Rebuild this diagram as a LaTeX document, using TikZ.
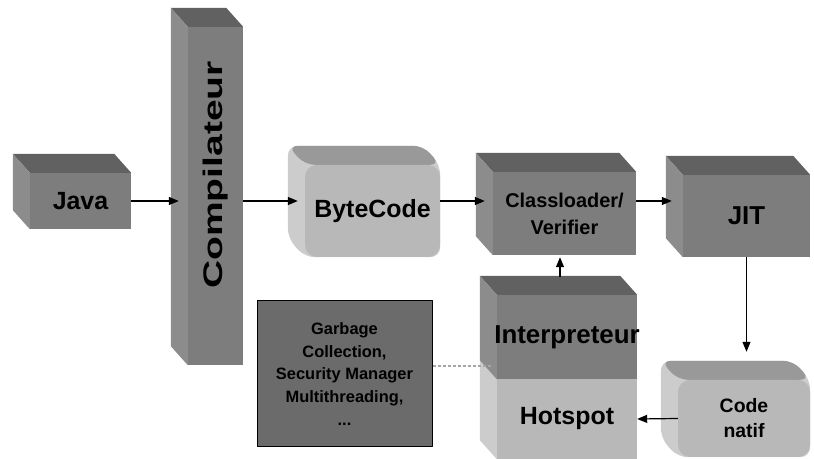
\documentclass[tikz,border=0pt]{standalone}
\usepackage{fontspec}
\setmainfont{Liberation Sans}
\usepackage{tikz}
\usetikzlibrary{arrows.meta}
\usetikzlibrary{backgrounds}

\definecolor{darkfront}{gray}{0.49}
\definecolor{darktop}{gray}{0.38}
\definecolor{darkside}{gray}{0.55}
\definecolor{lightfront}{gray}{0.72}
\definecolor{lighttop}{gray}{0.60}
\definecolor{lightside}{gray}{0.80}
\definecolor{gcfill}{gray}{0.42}

% top and left faces behind a front node
\newcommand\cubefaces[3]{%
  \fill[#2] (#1.north west) -- ([shift={(-17bp,19bp)}]#1.north west) -- ([shift={(-17bp,19bp)}]#1.north east) -- (#1.north east) -- cycle;
  \fill[#3] (#1.north west) -- ([shift={(-17bp,19bp)}]#1.north west) -- ([shift={(-17bp,19bp)}]#1.south west) -- (#1.south west) -- cycle;}
\newcommand\roundfaces[3]{%
  \fill[#3,rounded corners=10bp] ([shift={(-17bp,19bp)}]#1.north west) -- ([shift={(-17bp,19bp)}]#1.north east) -- (#1.north east) -- (#1.south east) -- (#1.south west) -- ([shift={(-17bp,19bp)}]#1.south west) -- cycle;
  \fill[#2,rounded corners=10bp] ([shift={(-17bp,19bp)}]#1.north west) -- ([shift={(-17bp,19bp)}]#1.north east) -- (#1.north east) -- (#1.north west) -- cycle;}
\newcommand\boxfont[2]{\bfseries\fontsize{#1}{#2}\selectfont}

\begin{document}
\begin{tikzpicture}[>={Triangle[length=10bp,width=8bp]},line join=bevel,
  darkbox/.style={fill=darkfront,inner sep=0pt,align=center},
  lightbox/.style={fill=lightfront,inner sep=0pt,align=center},
  roundbox/.style={lightbox,rounded corners=12bp},
  flow/.style={black,line width=1.2bp,->}]
%%
\useasboundingbox (0bp,0bp) rectangle (814bp,459bp);
\node (node_java) at (80.5bp,258bp) [darkbox,font=\boxfont{25}{30},minimum width=101bp,minimum height=56bp] {Java};
\node (node_comp) at (215.5bp,263bp) [darkbox,font=\boxfont{27}{30},minimum width=55bp,minimum height=338bp] {\rotatebox{90}{\hspace*{42bp}\scalebox{1.45}[1]{Compilateur}}};
\node (node_byte) at (372.5bp,248bp) [roundbox,font=\boxfont{25}{30},minimum width=135bp,minimum height=92bp] {ByteCode};
\node (node_class) at (564.5bp,245.5bp) [darkbox,font=\boxfont{20}{27},minimum width=143bp,minimum height=83bp] {Classloader/\\Verifier};
\node (node_jit) at (746.5bp,243bp) [darkbox,font=\boxfont{26}{30},minimum width=127bp,minimum height=82bp] {JIT};
\node (node_interp) at (567bp,122bp) [darkbox,font=\boxfont{26}{30},minimum width=140bp,minimum height=84bp] {\makebox[0pt]{Interpreteur}};
\node (node_hot) at (567bp,40bp) [lightbox,font=\boxfont{25}{30},minimum width=140bp,minimum height=80bp] {Hotspot};
\node (node_gc) at (344.5bp,85bp) [fill=gcfill,draw=black,line width=1bp,inner sep=0pt,align=center,font=\boxfont{16.5}{23},minimum width=175bp,minimum height=146bp] {Garbage\\Collection,\\Security Manager\\Multithreading,\\...};
\node (node_code) at (744bp,40.5bp) [roundbox,font=\boxfont{19.5}{25},minimum width=132bp,minimum height=77bp] {Code\\natif};
%
\begin{pgfonlayer}{background}
\cubefaces{node_java}{darktop}{darkside}
\cubefaces{node_comp}{darktop}{darkside}
\roundfaces{node_byte}{lighttop}{lightside}
\cubefaces{node_class}{darktop}{darkside}
\cubefaces{node_jit}{darktop}{darkside}
\cubefaces{node_hot}{lighttop}{lightside}
\cubefaces{node_interp}{darktop}{darkside}
\roundfaces{node_code}{lighttop}{lightside}
\end{pgfonlayer}
%
\draw [flow] (node_java.east) -- ([xshift=-9bp]node_comp.west |- node_java.east);
\draw [flow] (node_comp.east |- node_java.east) -- ([xshift=-7bp]node_byte.west |- node_java.east);
\draw [flow] (node_byte.east |- node_java.east) -- ([xshift=-8bp]node_class.west |- node_java.east);
\draw [flow] (node_class.east |- node_java.east) -- ([xshift=-11bp]node_jit.west |- node_java.east);
\draw [flow] (node_jit.south) -- ([yshift=28bp]node_jit.south |- node_code.north);
\draw [flow] (node_code.west) -- (node_hot.east);
\draw [flow] ([xshift=-7bp,yshift=18bp]node_interp.north) -- ([xshift=-7bp,yshift=-2bp]node_interp.north |- node_class.south);
\draw [gray!70,line width=1.5bp,dash pattern=on 3bp off 2bp] ([yshift=8bp]node_gc.east) -- ([xshift=-5bp,yshift=8bp]node_hot.west |- node_gc.east);
%
\end{tikzpicture}
\end{document}
